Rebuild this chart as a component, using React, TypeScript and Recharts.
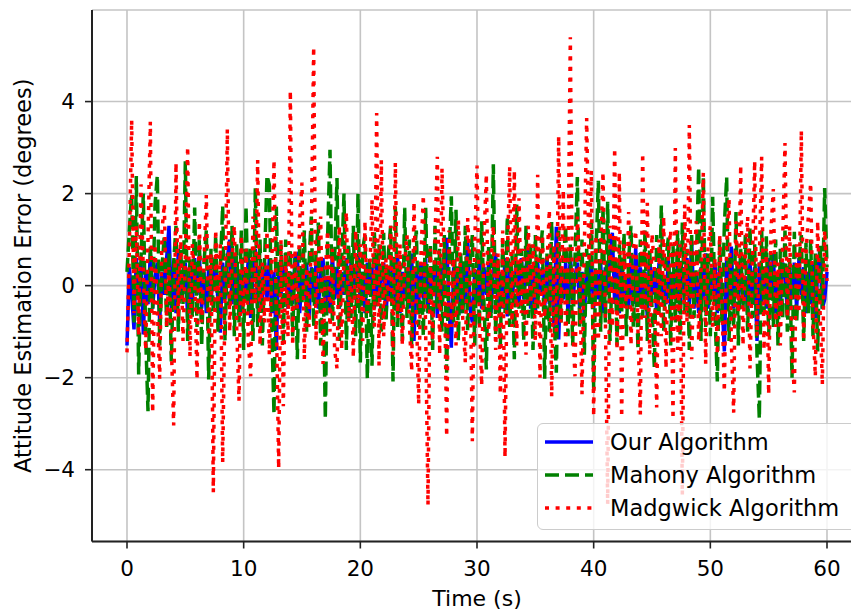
import React from 'react';
import { LineChart, Line, XAxis, YAxis, CartesianGrid, Legend } from 'recharts';

// sampling grid of the recorded signals (seconds between samples)
const SAMPLE_STEP = 0.2;
const X_TICKS = [0, 10, 20, 30, 40, 50, 60];
const Y_TICKS = [-4, -2, 0, 2, 4];
const X_LABEL = 'Time (s)';
const Y_LABEL = 'Attitude Estimation Error (degrees)';
const SERIES_NAMES = ['Our Algorithm', 'Mahony Algorithm', 'Madgwick Algorithm'];
const SERIES_KEYS = ['our', 'mahony', 'madgwick'];

// Our Algorithm (blue, solid)
const ourAlgorithm = [
  -1.3, 0.4, -0.2, -0.95, 0.6, -0.3, 0.5, -1.06, 0.3, -0.4,
  0.7, -0.5, 0.2, 0.5, -0.78, 0.3, -0.2, 0.6, 1.3, -0.5,
  0.4, -0.6, 0.8, -0.3, 0.2, 0.5, -0.7, 0.3, -0.4, 0.6,
  -0.2, 0.7, -0.5, 0.3, -0.6, 0.4, -0.3, 0.2, 0.6, -0.4,
  -1.02, 0.5, -0.3, 0.6, 1.0, -0.4, 0.67, -0.5, 0.3, -0.6,
  0.4, -0.2, 0.6, -0.7, 0.3, 0.8, -0.5, 0.2, -0.4, 0.5,
  -0.3, 0.6, -0.6, 0.3, -1.4, 0.5, -0.2, 0.4, 0.4, -0.5,
  0.3, -0.4, 0.6, 0.67, -0.6, 0.2, -0.3, 0.5, -0.7, 0.4,
  -0.2, 0.5, -0.5, 0.3, 0.6, -0.4, 0.2, -0.6, 0.7, -0.3,
  0.4, -0.5, 0.3, -0.2, 0.6, -0.7, 0.5, -0.3, 0.2, 0.7,
  -0.4, 0.3, -0.6, 0.5, -0.2, 0.4, -0.5, 0.6, -0.3, 0.2,
  0.5, -0.7, 0.4, -0.3, 0.6, -0.4, 0.63, -0.6, 0.3, -0.2,
  0.4, -0.5, 0.7, -1.2, 0.3, -0.4, 0.5, -0.3, 0.6, -0.6,
  0.3, -0.2, 0.5, -0.7, 0.4, -0.3, 0.6, 1.04, -0.5, -1.35,
  0.4, -0.3, 0.2, -0.6, 0.5, -0.4, 1.0, -0.5, -0.8, 0.3,
  -0.3, 0.6, -0.5, 0.4, -0.2, 0.5, -0.6, 0.3, 0.7, -0.4,
  0.3, -0.5, 0.6, -0.67, 0.4, -0.3, 0.2, 0.5, -0.4, 0.6,
  -0.3, 0.4, 0.82, -0.5, 0.3, -0.6, 0.5, -0.2, 0.4, -0.5,
  0.6, -0.4, 0.3, -0.9, 1.28, -1.17, 0.4, -0.3, 0.5, -0.6,
  0.7, -0.4, 0.2, 0.5, -0.5, 0.3, -0.7, 0.4, -0.2, 0.6,
  -0.5, 0.3, -0.3, 0.5, -0.6, 0.4, -0.2, 0.6, 1.15, -0.4,
  0.3, -0.6, 0.5, -0.3, 0.2, -0.5, 0.6, -0.4, 0.82, -0.3,
  0.4, -0.5, 0.3, -0.7, 0.6, -0.2, 0.4, -0.6, 0.5, -0.3,
  0.2, -0.4, 0.6, -0.5, 0.3, -0.3, 0.5, -0.6, 0.4, -0.2,
  0.6, -0.4, 0.95, -0.5, 0.3, -0.6, 0.4, -0.3, 0.7, -0.5,
  0.3, -0.2, 0.5, -0.6, 0.4, -0.3, -1.43, 0.6, -0.4, 0.85,
  -0.5, 0.3, -0.3, 0.6, -0.4, 0.2, -0.6, 0.5, -0.3, 0.4,
  -1.2, 0.5, -0.4, 0.3, -0.5, 0.6, -0.2, 0.7, -0.6, 0.3,
  -0.4, 0.5, 0.3, -0.6, 0.4, -0.3, 0.5, -0.5, 0.6, -0.2,
  0.4, -0.6, 0.3, -0.4, 0.5, -0.7, 0.3, 0.82, -0.5, -0.3,
  0.3,
];

// Mahony Algorithm (green, dashed)
const mahonyAlgorithm = [
  0.3, 1.2, 2.0, -0.8, 2.38, -1.93, 0.6, 2.0, -1.1, -2.73,
  0.9, -0.5, 1.75, 2.4, -1.3, 0.4, 1.1, -0.9, 0.7, -1.65,
  0.5, 1.3, -1.0, 0.8, -0.4, 2.7, -1.2, 0.6, -0.7, 1.7,
  -0.9, 1.0, -1.3, 0.5, 1.2, -2.04, 0.8, -0.6, 1.1, -1.0,
  0.4, 1.74, -1.2, 0.7, -0.5, 1.3, -1.1, 0.9, -0.8, 1.2,
  -1.4, 1.74, -0.6, 0.8, -1.2, 2.12, -0.9, 1.0, -1.3, 0.6,
  2.4, 2.19, -0.8, -2.8, 1.72, -0.7, 0.9, -1.2, 1.0, -0.5,
  0.8, -1.1, 0.6, -1.6, 0.9, -0.4, 1.2, -1.0, 0.5, 1.5,
  -0.9, 0.7, 1.37, -1.3, 0.4, -2.9, 1.1, 2.95, -0.8, 0.6,
  2.34, -1.2, 0.5, 2.0, -1.4, 0.9, -0.7, 1.3, -1.1, 2.0,
  -1.67, 0.8, 1.1, -2.02, 0.6, -1.74, 1.2, -0.5, 0.9, -1.0,
  1.15, -0.8, 0.7, 1.3, -2.08, 1.72, -0.9, 0.5, -1.2, 1.69,
  -0.7, 1.0, -1.3, 0.6, 1.2, -0.9, 0.4, -1.1, 1.69, -0.6,
  0.9, -1.4, 1.3, -0.5, 0.8, -1.0, 1.1, -1.89, 0.6, 1.94,
  -0.8, 1.65, -1.2, 0.7, -0.6, 1.3, -1.0, 0.5, 1.1, -1.3,
  0.8, -0.9, 1.4, -0.4, -1.82, 0.9, -0.7, 2.64, -1.1, 0.6,
  -1.3, 1.0, -0.6, 1.5, -0.9, 0.7, -1.6, 1.76, -0.5, 0.8,
  -1.2, 1.3, -0.7, 0.9, -1.4, 1.1, -0.5, 0.6, 1.2, -2.02,
  0.7, -1.0, 1.4, -0.6, -1.89, 1.2, -0.8, 0.5, 1.3, -1.1,
  0.9, -1.3, 0.6, 2.36, -0.9, 1.0, -1.5, 0.8, -0.4, 1.4,
  -2.24, 0.7, 2.28, -1.0, 1.7, -0.8, 1.82, -1.2, 0.5, 1.1,
  -1.3, 0.9, -0.6, 1.15, -1.1, 0.6, 1.3, -0.9, 0.4, -1.4,
  1.0, -0.7, 1.2, -1.2, 0.8, -0.5, -1.78, 1.1, -0.6, 1.74,
  -1.0, 0.6, 1.04, -1.3, 0.9, -0.8, 1.2, -1.1, 1.37, -0.6,
  0.8, -1.4, 1.1, -0.7, 0.5, 2.58, -1.2, 2.4, -0.9, 0.7,
  -1.1, 1.93, -0.6, -2.08, 1.0, -0.8, 1.3, 2.36, -1.2, 0.6,
  -0.9, 1.6, -1.3, 0.8, -0.5, 1.1, -1.0, 1.28, -0.7, 0.9,
  -1.5, -2.9, 1.2, -0.6, 1.07, -1.1, 0.7, -0.9, 1.0, -1.3,
  0.8, -0.7, 1.2, -1.0, 0.6, -2.0, 1.17, -0.8, 0.5, 1.1,
  -1.2, 0.93, -0.6, 1.0, -1.1, 0.7, -1.43, 0.9, -0.5, 2.12,
  0.4,
];

// Madgwick Algorithm (red, dotted)
const madgwickAlgorithm = [
  -1.45, 0.8, 3.6, -0.6, 1.3, -1.1, 2.2, 0.3, -1.4, 1.0,
  3.56, -2.76, 0.9, -0.5, -2.02, 1.2, 1.78, -0.9, 0.4, -1.3,
  -3.04, 2.67, -0.7, 1.1, -1.2, 0.6, 3.02, -1.54, 0.9, 0.2,
  -2.04, 1.4, -0.8, 0.5, 1.97, -1.1, 0.7, -4.49, 1.21, -0.4,
  0.9, -3.84, -0.3, 3.4, -1.0, 0.6, 1.3, -0.9, -2.5, 1.1,
  -0.6, 0.8, -1.2, -1.97, 1.5, -0.4, 2.73, -1.3, 0.5, -0.8,
  1.2, -1.5, 0.3, 2.73, -0.6, -3.97, 1.0, -2.62, 0.7, -1.1,
  4.24, -1.3, 0.8, -0.5, 1.4, 2.24, -1.6, 0.4, -0.9, 1.1,
  5.19, -1.2, 0.6, 1.5, -1.7, 0.3, 1.2, -1.0, 0.8, -1.4,
  -1.8, 1.3, -1.39, 0.7, 1.6, -0.8, 0.5, -1.56, 1.2, -0.4,
  0.9, -1.2, 1.4, -0.6, 0.2, 1.87, -0.9, 3.75, -1.74, 2.73,
  -1.1, 0.6, -0.4, 1.3, -1.5, 2.67, -0.7, 0.9, -1.3, 0.5,
  1.1, -0.8, -1.86, 1.82, -0.5, -2.58, 0.7, 1.97, -1.0, -4.77,
  0.8, -1.2, 1.0, 2.8, -1.5, 2.55, 0.3, -3.28, 1.2, -0.9,
  0.6, -1.3, 1.43, 0.2, -0.8, -1.67, 1.47, 0.4, -3.38, 0.9,
  2.61, -0.7, -2.17, 1.0, 2.42, -1.1, 0.5, 1.3, -1.4, 0.7,
  -2.36, 1.2, -3.73, 0.6, 2.59, -0.9, 2.5, -1.3, 1.9, -0.6,
  0.8, -1.5, 1.3, -0.4, 0.9, -1.2, 2.41, -2.0, 1.1, -0.7,
  0.5, 1.65, -2.41, 0.9, -1.0, 3.25, -0.8, 2.08, -1.4, 0.6,
  5.4, -0.9, -1.97, 1.5, 0.3, -2.36, 0.8, 3.64, 0.5, 2.5,
  -2.84, 1.1, -1.2, 0.7, 2.47, -0.6, -4.75, 1.3, -0.9, 2.99,
  -1.4, 2.47, -2.86, 0.9, -0.5, 1.6, -1.3, 0.8, 1.2, -1.0,
  -2.8, 2.88, -0.7, 1.8, -1.5, 1.13, 0.4, -2.65, 1.0, -1.1,
  1.5, -1.8, 0.7, 1.2, -2.9, 2.99, -1.4, 0.9, -4.55, 1.76,
  -0.8, 3.49, -1.6, 0.5, 1.4, -1.2, 0.3, 2.45, -1.7, 0.8,
  1.3, -0.9, 0.6, -1.5, 1.1, -0.4, -2.3, 0.9, 1.89, -1.2,
  -2.76, 1.4, -0.6, 2.62, -1.3, 0.7, 1.5, -1.8, 0.4, 2.71,
  -1.1, 0.6, 2.8, -1.4, 0.8, -2.36, 1.2, 2.1, -0.9, 0.5,
  -1.3, 1.0, 3.1, -0.7, 1.3, -1.5, -2.32, 0.9, -0.6, 3.37,
  -1.2, 0.7, 1.5, 2.23, -0.8, -1.97, 1.4, -0.5, -2.15, 1.2,
  0.1,
];

const data = ourAlgorithm.map((v, i) => ({
  t: Math.round(i * SAMPLE_STEP * 10) / 10,
  our: v,
  mahony: mahonyAlgorithm[i],
  madgwick: madgwickAlgorithm[i],
}));

const FONT = '"DejaVu Sans", sans-serif';
const LINE_W = 3.5;
const STYLES: Record<string, { color: string; dash?: string }> = {
  our: { color: '#0000ff' },
  mahony: { color: '#008000', dash: '14 6' },
  madgwick: { color: '#ff0000', dash: '4 6.6' },
};

const fmt = (v: number) => (v < 0 ? '\u2212' + Math.abs(v) : String(v));

function LegendBox(props: any) {
  const payload = [...(props.payload || [])].sort(
    (a: any, b: any) => SERIES_KEYS.indexOf(a.dataKey) - SERIES_KEYS.indexOf(b.dataKey)
  );
  return (
    <div
      style={{
        width: 330,
        height: 107,
        boxSizing: 'border-box',
        background: 'rgba(255,255,255,0.8)',
        border: '1.5px solid #cccccc',
        borderRadius: 6,
        fontFamily: FONT,
        fontSize: 22.5,
        color: '#000',
        position: 'relative',
      }}
    >
      {payload.map((p: any, k: number) => {
        const st = STYLES[p.dataKey] || { color: p.color };
        return (
          <div
            key={p.dataKey}
            style={{
              position: 'absolute',
              left: 0,
              top: 2 + 33 * k,
              height: 32,
              display: 'flex',
              alignItems: 'center',
              whiteSpace: 'nowrap',
            }}
          >
            <svg width={72} height={32} style={{ display: 'block' }}>
              <line
                x1={7}
                x2={55}
                y1={16}
                y2={16}
                stroke={st.color}
                strokeWidth={LINE_W}
                strokeDasharray={st.dash}
              />
            </svg>
            <span>{p.value}</span>
          </div>
        );
      })}
    </div>
  );
}

export default function App() {
  return (
    <div
      style={{
        position: 'fixed',
        left: 0,
        top: 0,
        width: 851,
        height: 612,
        overflow: 'hidden',
        background: '#fff',
      }}
    >
      <LineChart
        width={872}
        height={612}
        data={data}
        margin={{ top: 10, right: 10, bottom: 0, left: 0 }}
      >
        <CartesianGrid stroke="#c4c4c4" strokeWidth={1.6} />
        <XAxis
          dataKey="t"
          type="number"
          domain={[-3, 63]}
          ticks={X_TICKS}
          allowDataOverflow
          height={70.5}
          tickSize={7}
          tickMargin={12}
          axisLine={{ stroke: '#222', strokeWidth: 2 }}
          tickLine={{ stroke: '#222', strokeWidth: 1.6 }}
          tick={{ fill: '#000', fontSize: 21.5, fontFamily: FONT }}
          label={{ value: X_LABEL, position: 'insideBottom', offset: 6, fill: '#000', fontSize: 22, fontFamily: FONT }}
        />
        <XAxis
          xAxisId="top"
          dataKey="t"
          type="number"
          orientation="top"
          domain={[-3, 63]}
          height={0}
          tick={false}
          tickLine={false}
          axisLine={{ stroke: '#222', strokeWidth: 2 }}
        />
        <YAxis
          type="number"
          domain={[-5.56, 5.99]}
          ticks={Y_TICKS}
          allowDataOverflow
          width={92}
          tickSize={7}
          tickMargin={10}
          tickFormatter={fmt}
          axisLine={{ stroke: '#222', strokeWidth: 2 }}
          tickLine={{ stroke: '#222', strokeWidth: 1.6 }}
          tick={{ fill: '#000', fontSize: 21.5, fontFamily: FONT }}
          label={{
            content: (p: any) => {
              const vb = p.viewBox || { x: 0, y: 10, width: 92, height: 531.5 };
              const cx = 23;
              const cy = vb.y + vb.height / 2;
              return (
                <text
                  x={cx}
                  y={cy}
                  transform={`rotate(-90 ${cx} ${cy})`}
                  textAnchor="middle"
                  dominantBaseline="central"
                  fill="#000"
                  fontSize={22.5}
                  fontFamily={FONT}
                >
                  {Y_LABEL}
                </text>
              );
            },
          }}
        />
        <Line
          dataKey="our"
          name={SERIES_NAMES[0]}
          type="linear"
          stroke={STYLES.our.color}
          strokeWidth={LINE_W}
          dot={false}
          activeDot={false}
          isAnimationActive={false}
        />
        <Line
          dataKey="mahony"
          name={SERIES_NAMES[1]}
          type="linear"
          stroke={STYLES.mahony.color}
          strokeWidth={LINE_W}
          strokeDasharray={STYLES.mahony.dash}
          dot={false}
          activeDot={false}
          isAnimationActive={false}
        />
        <Line
          dataKey="madgwick"
          name={SERIES_NAMES[2]}
          type="linear"
          stroke={STYLES.madgwick.color}
          strokeWidth={LINE_W}
          strokeDasharray={STYLES.madgwick.dash}
          dot={false}
          activeDot={false}
          isAnimationActive={false}
        />
        <Legend
          layout="vertical"
          align="center"
          verticalAlign="middle"
          wrapperStyle={{ left: 537, top: 423, width: 330, height: 107 }}
          content={(p: any) => <LegendBox {...p} />}
        />
      </LineChart>
    </div>
  );
}
